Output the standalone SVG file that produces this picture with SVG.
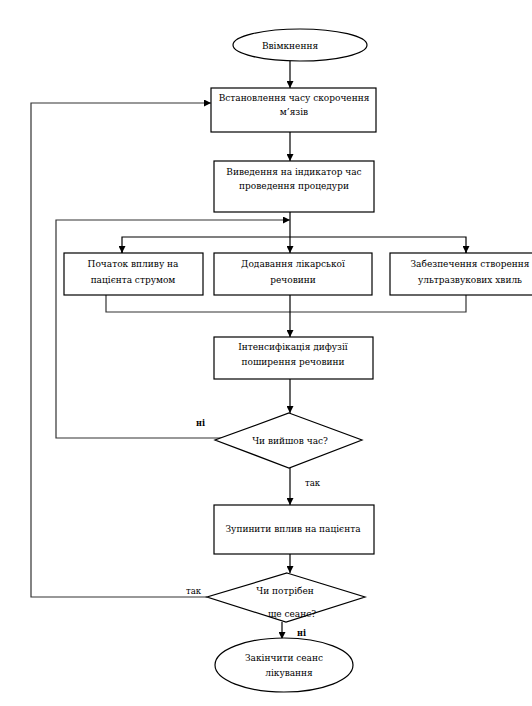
<svg xmlns="http://www.w3.org/2000/svg" width="532" height="706" viewBox="0 0 532 706">
<style>
  .shape { fill: #fff; stroke: #000; stroke-width: 1.2; }
  .line { fill: none; stroke: #000; stroke-width: 1.2; }
  .loop { fill: none; stroke: #333; stroke-width: 1.2; }
  text { font-family: 'DejaVu Serif Condensed', 'DejaVu Serif', serif; font-stretch: condensed; fill: #000; }
  .t { font-size: 10px; text-anchor: middle; }
  .lbl { font-size: 9.5px; }
  .b { font-weight: bold; font-size: 9px; }
</style>
<defs>
  <marker id="arr" viewBox="0 0 10 10" refX="10" refY="5" markerWidth="7" markerHeight="7" orient="auto" markerUnits="userSpaceOnUse">
    <path d="M0,0 L10,5 L0,10 z" fill="#000"/>
  </marker>
</defs>
<rect width="532" height="706" fill="#fff"/>

<g id="connectors">
  <line class="line" x1="290" y1="61" x2="290" y2="88" marker-end="url(#arr)"/>
  <line class="line" x1="290" y1="132" x2="290" y2="161" marker-end="url(#arr)"/>
  <line class="line" x1="290" y1="212" x2="290" y2="253" marker-end="url(#arr)"/>
  <polyline class="line" points="122,253 122,237 466,237 466,253" />
  <line class="line" x1="122" y1="246" x2="122" y2="253" marker-end="url(#arr)"/>
  <line class="line" x1="466" y1="246" x2="466" y2="253" marker-end="url(#arr)"/>
  <polyline class="loop" points="106,295 106,312 466,312 466,295"/>
  <line class="line" x1="290" y1="295" x2="290" y2="337" marker-end="url(#arr)"/>
  <line class="line" x1="290" y1="379" x2="290" y2="413" marker-end="url(#arr)"/>
  <polyline class="loop" points="222,438 56,438 56,220 290,220" marker-end="url(#arr)"/>
  <line class="line" x1="290" y1="468" x2="290" y2="505" marker-end="url(#arr)"/>
  <line class="line" x1="290" y1="554" x2="290" y2="573" marker-end="url(#arr)"/>
  <polyline class="loop" points="207,597 31,597 31,103 211,103" marker-end="url(#arr)"/>
  <line class="line" x1="282" y1="622" x2="282" y2="639" marker-end="url(#arr)"/>
  <text class="lbl b" x="196" y="426">ні</text>
  <text class="lbl" x="305" y="486">так</text>
  <text class="lbl" x="186" y="594">так</text>
  <text class="lbl b" x="297" y="636">ні</text>
</g>

<g id="start">
  <ellipse class="shape" cx="300" cy="45" rx="67" ry="16"/>
  <text class="t" x="290" y="49">Ввімкнення</text>
</g>

<g id="set-time">
  <rect class="shape" x="211" y="88" width="165" height="44"/>
  <text class="t" x="294" y="101">Встановлення часу скорочення</text>
  <text class="t" x="294" y="115">м’язів</text>
</g>

<g id="display-time">
  <rect class="shape" x="214" y="161" width="160" height="51"/>
  <text class="t" x="294" y="175">Виведення на індикатор час</text>
  <text class="t" x="294" y="189">проведення процедури</text>
</g>

<g id="current">
  <rect class="shape" x="64" y="253" width="139" height="42"/>
  <text class="t" x="133" y="267">Початок впливу на</text>
  <text class="t" x="133" y="283">пацієнта струмом</text>
</g>

<g id="medicine">
  <rect class="shape" x="214" y="253" width="158" height="42"/>
  <text class="t" x="293" y="267">Додавання лікарської</text>
  <text class="t" x="293" y="283">речовини</text>
</g>

<g id="ultrasound">
  <rect class="shape" x="390" y="253" width="145" height="42"/>
  <text class="t" x="470" y="267">Забезпечення створення</text>
  <text class="t" x="470" y="283">ультразвукових хвиль</text>
</g>

<g id="diffusion">
  <rect class="shape" x="214" y="337" width="159" height="42"/>
  <text class="t" x="293" y="350">Інтенсифікація дифузії</text>
  <text class="t" x="293" y="365">поширення речовини</text>
</g>

<g id="time-check">
  <polygon class="shape" points="289,413 362,440 289,468 215,440"/>
  <text class="t" x="290" y="444">Чи вийшов час?</text>
</g>

<g id="stop">
  <rect class="shape" x="214" y="505" width="160" height="49"/>
  <text class="t" x="293" y="532">Зупинити вплив на пацієнта</text>
</g>

<g id="session-check">
  <polygon class="shape" points="287,573 365,597 286,622 207,597"/>
  <text class="t" x="285" y="594">Чи потрібен</text>
  <text class="t" x="292" y="617">ще сеанс?</text>
</g>

<g id="end">
  <ellipse class="shape" cx="284" cy="665" rx="69" ry="27"/>
  <text class="t" x="284" y="661">Закінчити сеанс</text>
  <text class="t" x="289" y="676">лікування</text>
</g>
</svg>
